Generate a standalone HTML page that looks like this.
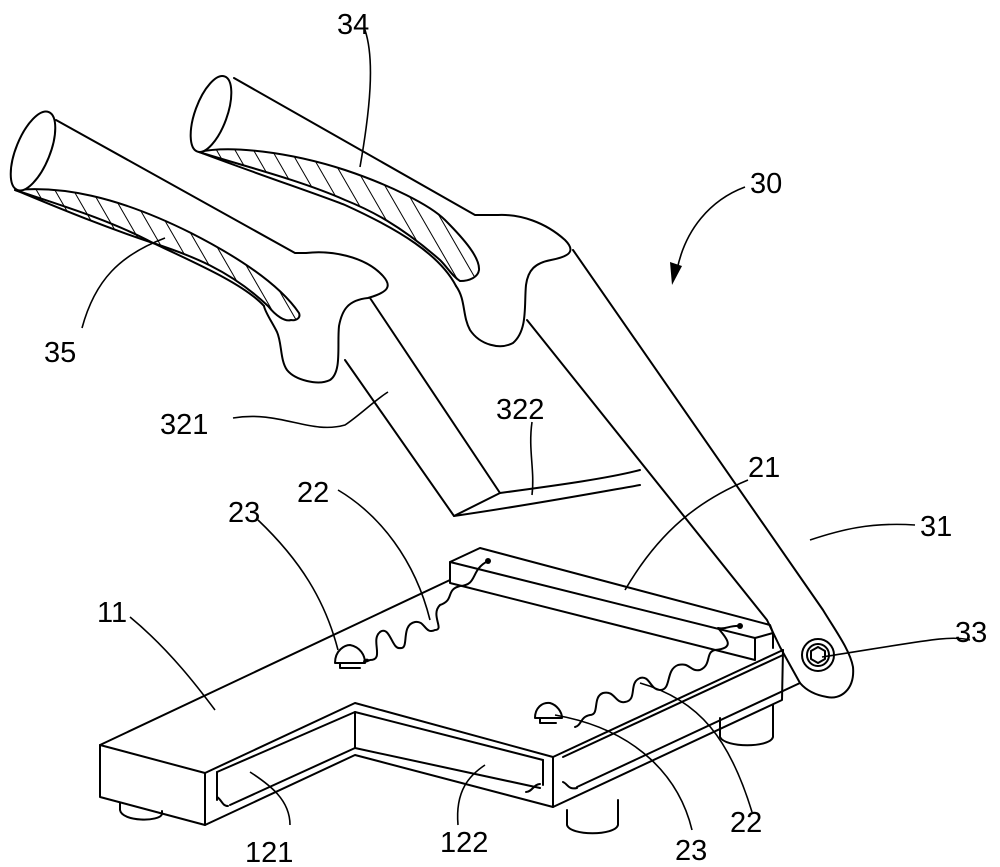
<!DOCTYPE html>
<html><head><meta charset="utf-8"><style>
html,body{margin:0;padding:0;background:#fff;}
svg{display:block;}
text{font-family:"Liberation Sans",sans-serif;font-size:29px;fill:#000;}
</style></head><body>
<svg width="1000" height="867" viewBox="0 0 1000 867" xmlns="http://www.w3.org/2000/svg">
<defs>
<pattern id="h" width="16" height="16" patternUnits="userSpaceOnUse" patternTransform="rotate(-30)">
<line x1="0" y1="0" x2="0" y2="16" stroke="#000" stroke-width="2"/>
</pattern>
</defs>
<g fill="none" stroke="#000" stroke-width="2" stroke-linejoin="round" stroke-linecap="round">
<!-- Handle 35 -->
<path d="M15,190 C60,186 115,195 191,233 C240,258 280,285 299,313 C301,318 296,321 291,320 C285,322 276,316 268,306 C230,270 190,255 153,243 C90,222 40,200 15,190 Z" fill="url(#h)"/>
<ellipse cx="33" cy="151" rx="17" ry="42" transform="rotate(22 33 151)" fill="#fff"/>
<path d="M56,120 L295,253 L306,253 C330,250 365,256 383,276 C392,286 389,292 368,298 C348,300 342,310 339,326 C337,345 342,372 330,380 C318,386 295,380 287,370 C280,360 282,343 277,332 C272,322 265,312 264,306"/>
<path d="M15,190 C60,205 110,220 153,243 C200,265 245,285 264,306"/>
<!-- Handle 34 -->
<path d="M199,152 C230,145 290,152 345,170 C390,185 430,205 445,220 C465,240 480,258 479,270 C478,277 470,281 460,281 C452,276 448,268 440,260 C400,225 370,210 345,200 C300,180 240,165 199,152 Z" fill="url(#h)"/>
<ellipse cx="211" cy="114" rx="16" ry="40" transform="rotate(20 211 114)" fill="#fff"/>
<path d="M234,78 L475,215 L498,215 C520,214 545,222 565,240 C575,250 572,256 551,260 C535,263 528,270 526,285 C524,305 528,330 513,343 C500,350 480,345 470,330 C462,315 466,300 456,286"/>
<path d="M199,152 C260,175 320,195 345,205 C400,230 440,255 456,286"/>
<!-- Bar 321 -->
<path d="M345,360 L454,516 L500,493 L370,298"/>
<path d="M500,493 C560,485 610,478 640,470"/>
<path d="M454,516 C530,505 600,492 640,485"/>
<!-- Arm 31 -->
<path d="M573,250 L823,610 C835,630 850,650 853,667 C855,690 840,700 827,697 C815,695 806,690 800,683"/>
<path d="M527,320 L767,620 L780,647 L800,683"/>
<circle cx="818" cy="655" r="16"/>
<circle cx="818" cy="655" r="11"/>
<polygon points="818,647 825,651 825,659 818,663 811,659 811,651"/>
<!-- Base: block 21 -->
<path d="M450,562 L480,548 L770,625 L773,633 L755,638 L450,562 Z"/>
<path d="M450,562 L450,583 L755,660 L755,638 M773,633 L773,648"/>
<!-- top slab -->
<path d="M100,745 L450,580"/>
<path d="M100,745 L205,773 L355,703 L553,757 L783,650"/>
<path d="M100,745 L100,797 L205,825 L205,773"/>
<path d="M205,825 L355,755 L553,807 L782,700 L783,650"/>
<path d="M217,772 L355,712 L543,760"/>
<path d="M230,805 L355,748 L540,788"/>
<path d="M217,772 L217,800 M355,712 L355,748 M543,760 L543,785 M553,757 L553,807"/>
<path d="M563,757 L783,655"/>
<path d="M577,787 L800,683"/>
<path d="M217,797 C222,800 222,806 228,806 M540,784 C534,784 532,792 526,792 M563,782 C568,784 568,790 577,788"/>
<!-- feet -->
<path d="M120,803 L120,810 C122,822 160,822 162,814 L162,811"/>
<path d="M567,810 L567,825 C570,836 615,836 618,825 L618,800"/>
<path d="M720,718 L720,737 C725,748 770,748 773,737 L773,705"/>
<!-- springs -->
<path d="M488,561 C470,570 478,585 460,586 C445,590 455,600 440,605 C430,615 445,630 435,630 C425,635 425,620 415,622 C400,625 410,650 400,648 C392,650 390,625 380,632 C370,640 385,660 370,660 C360,665 365,658 368,660"/>
<path d="M740,626 C730,625 725,630 718,628 C728,640 735,648 715,650 C705,652 712,665 700,670 C690,672 690,662 678,665 C665,670 672,690 660,690 C650,690 650,675 640,678 C628,683 638,700 625,702 C615,704 615,690 603,693 C592,697 600,715 590,715 C580,717 582,725 575,727"/>
<!-- bumps 23 -->
<path d="M335,663 C335,650 345,645 350,645 C360,647 365,655 365,663 Z"/>
<path d="M340,663 L340,668 L360,668"/>
<path d="M535,718 C535,708 542,702 550,703 C557,705 562,712 562,718 Z"/>
<path d="M540,718 L540,723 L556,723"/>
</g>
<circle cx="488" cy="561" r="3" fill="#000"/>
<circle cx="740" cy="626" r="3" fill="#000"/>
<!-- leaders -->
<g fill="none" stroke="#000" stroke-width="1.6">
<path d="M360,167 C370,110 375,60 365,30"/>
<path d="M745,187 C710,200 685,230 677,270"/>
<path d="M82,328 C95,280 120,255 165,238"/>
<path d="M233,418 C280,410 310,435 345,425 C360,415 375,400 388,392"/>
<path d="M532,422 C528,450 535,470 532,495"/>
<path d="M338,490 C380,515 415,560 430,620"/>
<path d="M748,480 C700,500 660,530 625,590"/>
<path d="M915,525 C870,522 840,530 810,540"/>
<path d="M258,520 C300,560 325,600 338,650"/>
<path d="M130,617 C170,650 200,690 215,710"/>
<path d="M970,640 C950,635 930,640 822,657"/>
<path d="M290,825 C290,800 270,785 250,772"/>
<path d="M458,825 C455,790 470,775 485,765"/>
<path d="M692,830 C680,780 640,730 555,715"/>
<path d="M752,812 C730,740 700,700 640,683"/>
</g>
<path d="M672,285 L670,262 L682,266 Z" fill="#000"/>
<text x="337" y="34">34</text>
<text x="750" y="193">30</text>
<text x="44" y="362">35</text>
<text x="160" y="434">321</text>
<text x="496" y="419">322</text>
<text x="297" y="502">22</text>
<text x="748" y="477">21</text>
<text x="920" y="536">31</text>
<text x="228" y="522">23</text>
<text x="97" y="622">11</text>
<text x="955" y="642">33</text>
<text x="245" y="862">121</text>
<text x="440" y="852">122</text>
<text x="675" y="860">23</text>
<text x="730" y="832">22</text>
</svg>
</body></html>
